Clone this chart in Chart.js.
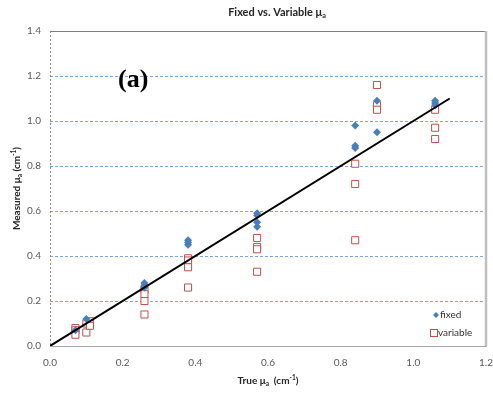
<!DOCTYPE html>
<html>
<head>
<meta charset="utf-8">
<script src="https://cdn.jsdelivr.net/npm/chart.js@4.4.1/dist/chart.umd.min.js"></script>
<style>
  html, body { margin: 0; padding: 0; background: #fff; }
  #wrap { width: 493px; height: 397px; position: relative; }
</style>
</head>
<body>
<div id="wrap"><canvas id="muaChart"></canvas></div>
<script>
// Fixed vs. variable mu_a
const fixedTrue = [0.07, 0.10, 0.26, 0.26, 0.26, 0.38, 0.38, 0.38, 0.57, 0.57, 0.57, 0.57, 0.84, 0.84, 0.84, 0.90, 0.90, 1.06, 1.06, 1.06];
const fixedMeasured = [0.07, 0.12, 0.28, 0.27, 0.26, 0.47, 0.46, 0.45, 0.59, 0.58, 0.55, 0.53, 0.98, 0.89, 0.88, 1.09, 0.95, 1.09, 1.08, 1.07];

const variableTrue = [0.07, 0.07, 0.07, 0.10, 0.10, 0.11, 0.11, 0.26, 0.26, 0.26, 0.26, 0.38, 0.38, 0.38, 0.38, 0.57, 0.57, 0.57, 0.57, 0.84, 0.84, 0.84, 0.90, 0.90, 0.90, 1.06, 1.06, 1.06];
const variableMeasured = [0.08, 0.07, 0.05, 0.10, 0.06, 0.11, 0.09, 0.25, 0.23, 0.20, 0.14, 0.39, 0.38, 0.35, 0.26, 0.48, 0.44, 0.43, 0.33, 0.81, 0.72, 0.47, 1.16, 1.07, 1.05, 1.05, 0.97, 0.92];

const identityX = [0, 1.1];
const identityY = [0, 1.1];

const xTicks = [0, 0.2, 0.4, 0.6, 0.8, 1.0, 1.2];
const yTicks = [0, 0.2, 0.4, 0.6, 0.8, 1.0, 1.2, 1.4];
const gridValues = [0.2, 0.4, 0.6, 0.8, 1.0, 1.2];

const BLUE = "#4a7ebb";
const RED = "#c0504d";
const GRID_BLUE = "#7ea6e0";
const FONT = "Lato, 'Open Sans', sans-serif";

function zip(xs, ys) {
    return xs.map((x, i) => ({ x: x, y: ys[i] }));
}

// draws text made of pieces, some of them sub/superscript
function richText(ctx, parts, x, y, size, align) {
    ctx.save();
    ctx.textBaseline = "middle";
    ctx.textAlign = "left";
    let total = 0;
    parts.forEach(p => {
        ctx.font = "bold " + (p.s ? size * 0.65 : size) + "px " + FONT;
        p.w = ctx.measureText(p.t).width;
        total += p.w;
    });
    let cx = align === "center" ? x - total / 2 : x;
    parts.forEach(p => {
        ctx.font = "bold " + (p.s ? size * 0.65 : size) + "px " + FONT;
        let dy = 0;
        if (p.s === "sub") dy = size * 0.3;
        if (p.s === "sup") dy = -size * 0.3;
        ctx.fillText(p.t, cx, y + dy);
        cx += p.w;
    });
    ctx.restore();
}

const decorations = {
    id: "decorations",
    beforeDatasetsDraw(chart) {
        const ctx = chart.ctx;
        const a = chart.chartArea;
        const yScale = chart.scales.y;
        ctx.save();
        // blue dashed gridlines
        ctx.strokeStyle = GRID_BLUE;
        ctx.lineWidth = 1;
        ctx.setLineDash([3, 2]);
        gridValues.forEach(v => {
            const py = Math.round(yScale.getPixelForValue(v)) + 0.5;
            ctx.beginPath();
            ctx.moveTo(a.left, py);
            ctx.lineTo(a.right, py);
            ctx.stroke();
        });
        ctx.setLineDash([]);
        // top frame line
        ctx.strokeStyle = "#7f7f7f";
        ctx.beginPath();
        ctx.moveTo(a.left, a.top + 0.5);
        ctx.lineTo(a.right, a.top + 0.5);
        ctx.stroke();
        // right frame line
        ctx.strokeStyle = "#bfbfbf";
        ctx.lineWidth = 2.5;
        ctx.beginPath();
        ctx.moveTo(a.right, a.top);
        ctx.lineTo(a.right, a.bottom);
        ctx.stroke();
        // dashed value axis
        ctx.strokeStyle = "#8c8c8c";
        ctx.lineWidth = 1;
        ctx.setLineDash([2, 2]);
        ctx.beginPath();
        ctx.moveTo(a.left + 0.5, a.top);
        ctx.lineTo(a.left + 0.5, a.bottom);
        ctx.stroke();
        ctx.restore();
    },
    afterDraw(chart) {
        const ctx = chart.ctx;
        const a = chart.chartArea;
        ctx.save();
        ctx.fillStyle = "#262626";

        richText(ctx, [{ t: "Fixed vs. Variable μ" }, { t: "a", s: "sub" }], 277, 12, 11, "center");
        richText(ctx, [{ t: "True μ" }, { t: "a", s: "sub" }, { t: "  (cm" }, { t: "-1", s: "sup" }, { t: ")" }],
            (a.left + a.right) / 2, 381, 10, "center");

        ctx.save();
        ctx.translate(17, (a.top + a.bottom) / 2);
        ctx.rotate(-Math.PI / 2);
        richText(ctx, [{ t: "Measured μ" }, { t: "a", s: "sub" }, { t: " (cm" }, { t: "-1", s: "sup" }, { t: ")" }],
            0, 0, 10, "center");
        ctx.restore();

        // panel label
        ctx.font = "bold 26px 'Liberation Serif', 'DejaVu Serif', serif";
        ctx.fillStyle = "#000";
        ctx.textBaseline = "middle";
        ctx.textAlign = "left";
        ctx.fillText("(a)", 118, 80);

        // legend inside the plot
        ctx.font = "10px " + FONT;
        ctx.fillStyle = "#333";
        ctx.fillText("fixed", 440, 315);
        ctx.fillText("variable", 438, 333);
        ctx.fillStyle = BLUE;
        ctx.beginPath();
        ctx.moveTo(436, 312);
        ctx.lineTo(439, 315);
        ctx.lineTo(436, 318);
        ctx.lineTo(433, 315);
        ctx.closePath();
        ctx.fill();
        ctx.strokeStyle = RED;
        ctx.lineWidth = 1;
        ctx.fillStyle = "#fff";
        ctx.fillRect(430.5, 329.5, 7, 7);
        ctx.strokeRect(430.5, 329.5, 7, 7);
        ctx.restore();
    }
};

const ctx = document.getElementById("muaChart").getContext("2d");

new Chart(ctx, {
    type: "scatter",
    data: {
        datasets: [
            {
                label: "identity",
                type: "line",
                data: zip(identityX, identityY),
                borderColor: "#000",
                borderWidth: 2,
                pointRadius: 0,
                fill: false
            },
            {
                label: "fixed",
                data: zip(fixedTrue, fixedMeasured),
                pointStyle: "rectRot",
                pointRadius: 4,
                backgroundColor: BLUE,
                borderColor: BLUE,
                borderWidth: 0
            },
            {
                label: "variable",
                data: zip(variableTrue, variableMeasured),
                pointStyle: "rect",
                pointRadius: 5,
                backgroundColor: "#fff",
                borderColor: RED,
                borderWidth: 1
            }
        ]
    },
    options: {
        responsive: true,
        maintainAspectRatio: false,
        animation: false,
        layout: {
            padding: { left: 0, right: 7, top: 31, bottom: 0 }
        },
        plugins: {
            legend: { display: false },
            title: { display: false },
            tooltip: { enabled: false }
        },
        scales: {
            x: {
                type: "linear",
                min: 0,
                max: 1.2,
                afterBuildTicks: scale => {
                    scale.ticks = xTicks.map(v => ({ value: v }));
                },
                afterFit: scale => {
                    scale.height = 51;
                    scale.paddingRight = 0;
                    scale.paddingLeft = 0;
                },
                grid: { display: false, drawTicks: false },
                border: { display: true, color: "#a6a6a6", width: 1 },
                ticks: {
                    padding: 11,
                    color: "#595959",
                    font: { family: FONT, size: 10 },
                    callback: v => v.toFixed(1)
                }
            },
            y: {
                type: "linear",
                min: 0,
                max: 1.4,
                afterBuildTicks: scale => {
                    scale.ticks = yTicks.map(v => ({ value: v }));
                },
                afterFit: scale => { scale.width = 50; },
                grid: { display: false, drawTicks: false },
                border: { display: false },
                ticks: {
                    padding: 9,
                    color: "#595959",
                    font: { family: FONT, size: 10 },
                    callback: v => v.toFixed(1)
                }
            }
        }
    },
    plugins: [decorations]
});
</script>
</body>
</html>
